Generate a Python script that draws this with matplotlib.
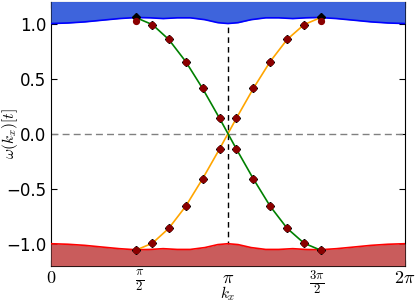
import numpy as np
import matplotlib
matplotlib.use("Agg")
import matplotlib.pyplot as plt

plt.rcParams["mathtext.fontset"] = "cm"

# --- données ---
# bord des bandes (haut), le bas est le miroir
kx_band = [0.00, 0.30, 0.60, 0.90, 1.21, 1.51, 1.76, 1.99, 2.24, 2.47, 2.73, 2.96, 3.14,
           3.32, 3.55, 3.81, 4.04, 4.29, 4.52, 4.77, 5.07, 5.38, 5.68, 5.98, 6.28]
band_top = [1.000, 1.005, 1.015, 1.030, 1.045, 1.055, 1.052, 1.045, 1.052, 1.052, 1.035, 1.008, 1.000,
            1.008, 1.035, 1.052, 1.052, 1.045, 1.052, 1.055, 1.045, 1.030, 1.015, 1.005, 1.000]
band_bottom = [-v for v in band_top]

# états de bord
kx_edge = [1.50, 1.80, 2.09, 2.39, 2.69, 2.99, 3.29, 3.59, 3.89, 4.19, 4.49, 4.79]
edge_green = [1.055, 0.99, 0.855, 0.655, 0.41, 0.14, -0.14, -0.41, -0.66, -0.86, -0.995, -1.06]
edge_orange = [-1.06, -0.995, -0.86, -0.66, -0.41, -0.14, 0.14, 0.41, 0.655, 0.855, 0.99, 1.055]
circ_green = [1.025, 0.99, 0.855, 0.655, 0.41, 0.14, -0.14, -0.41, -0.66, -0.86, -0.995, -1.06]
circ_orange = [-1.06, -0.995, -0.86, -0.66, -0.41, -0.14, 0.14, 0.41, 0.655, 0.855, 0.99, 1.02]

xticks = [0, np.pi / 2, np.pi, 3 * np.pi / 2, 2 * np.pi]
xtick_labels = [r"$0$", r"$\frac{\pi}{2}$", r"$\pi$", r"$\frac{3\pi}{2}$", r"$2\pi$"]
yticks = [-1.0, -0.5, 0.0, 0.5, 1.0]

fig = plt.figure(figsize=(4.15, 3.03), dpi=100)
ax = fig.add_axes([0.123, 0.123, 0.853, 0.872])

# bandes
ax.fill_between(kx_band, band_top, 1.2, color="#3e64dc", lw=0, zorder=3)
ax.plot(kx_band, band_top, color="blue", lw=1.2, zorder=4)
ax.fill_between(kx_band, band_bottom, -1.2, color="#c95c5c", lw=0, zorder=3)
ax.plot(kx_band, band_bottom, color="red", lw=1.2, zorder=4)

# lignes pointillées
ax.axhline(0, color="gray", ls="--", lw=1.0, dashes=(5, 3), zorder=2)
ax.axvline(np.pi, color="black", ls="--", lw=1.0, dashes=(4, 3), zorder=2)

# états de bord
ax.plot(kx_edge, edge_orange, color="orange", lw=1.2, zorder=5)
ax.plot(kx_edge, edge_green, color="green", lw=1.2, zorder=5.1)
for vals in (edge_green, edge_orange):
    ax.plot(kx_edge, vals, "D", color="black", ms=4.5, zorder=6)
for vals in (circ_green, circ_orange):
    ax.plot(kx_edge, vals, "o", color="#8b0000", ms=4.2, mec="#8b0000", zorder=7)

ax.set_xlim(0, 2 * np.pi)
ax.set_ylim(-1.2, 1.2)
ax.set_xticks(xticks)
ax.set_xticklabels(xtick_labels, fontsize=13)
ax.set_yticks(yticks)
ax.tick_params(axis="y", labelsize=12)
ax.tick_params(axis="x", pad=2)
ax.tick_params(direction="in", top=True, right=True, length=4)
ax.set_xlabel(r"$k_x$", fontsize=11)
ax.set_ylabel(r"$\omega(k_x)[t]$", fontsize=11)
ax.xaxis.set_label_coords(0.5, -0.072)
ax.yaxis.set_label_coords(-0.088, 0.5)

fig.savefig("out.png", dpi=100)
